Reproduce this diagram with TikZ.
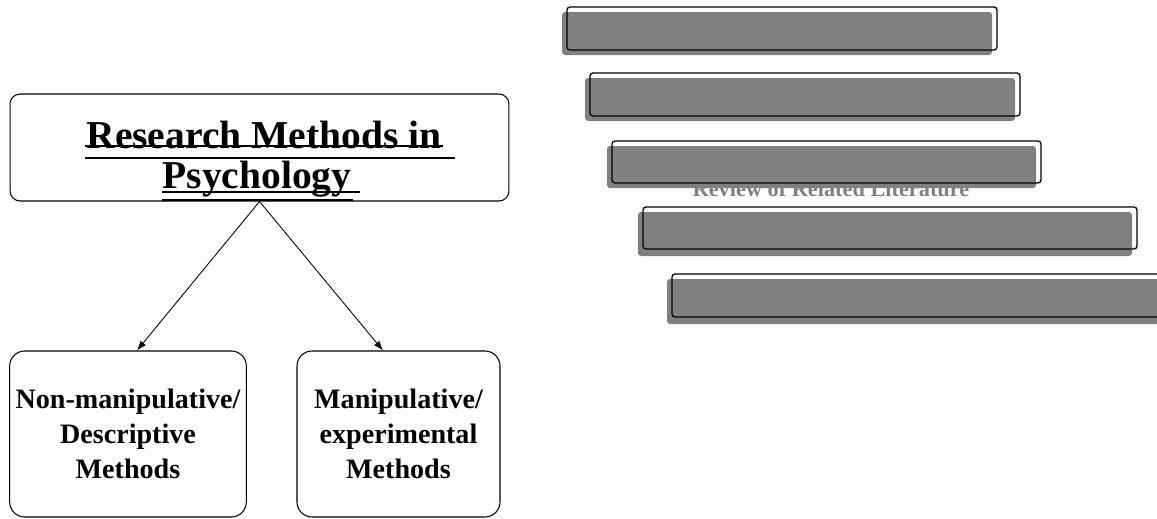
\documentclass[tikz,border=0pt]{standalone}
\usepackage{fontspec}
\setmainfont{Liberation Serif}
\usetikzlibrary{arrows.meta}
\definecolor{balkengrau}{RGB}{128,128,128}
\tikzset{
	kasten/.style={draw, line width=0.6pt},
	balken/.style={draw, rounded corners=0.06cm, line width=0.75pt},
	schatten/.style={fill=balkengrau, rounded corners=0.06cm},
	pfeil/.style={-{Latex[length=5.5pt,width=4pt]}, line width=0.5pt},
	strich/.style={line width=1.7pt}
}
\begin{document}
\begin{tikzpicture}[x=0.02cm,y=-0.02cm]
			\useasboundingbox (0,0) rectangle (1157,518);

			% Kasten oben
			\node[kasten, rounded corners=0.2cm, minimum width=9.98cm, minimum height=2.14cm] (oben) at (259.5,147.5) {};
			\node[anchor=base, font=\bfseries\fontsize{22.5}{26}\selectfont] (zeile1) at (264,148) {Research Methods in};
			\node[anchor=base, font=\bfseries\fontsize{22.5}{26}\selectfont] (zeile2) at (257,188) {Psychology};

			% Unterstreichungen
			\draw[line width=0.75pt] (85,146) -- (443,146);
			\draw[strich] (85,158) -- (455,158);
			\draw[strich] (162,192) -- (360,192);
			\draw[strich] (162,200) -- (353,200);

			% Kaesten unten
			\node[kasten, rounded corners=0.3cm, minimum width=4.64cm, minimum height=3.32cm,
				align=center, font=\bfseries\fontsize{16}{20}\selectfont] (links) at (128,434)
				{Non-manipulative/\\Descriptive\\Methods};
			\node[kasten, rounded corners=0.3cm, minimum width=4.06cm, minimum height=3.32cm,
				align=center, font=\bfseries\fontsize{16}{20}\selectfont] (rechts) at (398.5,434)
				{Manipulative/\\experimental\\Methods};

			% Pfeile
			\draw[pfeil] (oben.south) -- ([xshift=0.18cm]links.north);
			\draw[pfeil] (oben.south) -- ([xshift=-0.31cm]rechts.north);

			% Text hinter den Balken
			\node[anchor=base, text=balkengrau, font=\bfseries\fontsize{12.7}{15}\selectfont] (literatur) at (831,196) {Review of Related Literature};

			% Balken 1
			\fill[schatten] (562,12) rectangle (992,55);
			\draw[balken] (567,7) rectangle (997,50);

			% Balken 2
			\fill[schatten] (585,78) rectangle (1015,121);
			\draw[balken] (590,73) rectangle (1020,116);

			% Balken 3
			\fill[schatten] (607,146) rectangle (1036,188);
			\draw[balken] (612,141) rectangle (1041,183);

			% Balken 4
			\fill[schatten] (638,212) rectangle (1132,256);
			\draw[balken] (643,207) rectangle (1137,249);

			% Balken 5
			\fill[schatten] (667,279) rectangle (1170,324);
			\draw[balken] (672,274) rectangle (1175,317);
		\end{tikzpicture}
\end{document}
